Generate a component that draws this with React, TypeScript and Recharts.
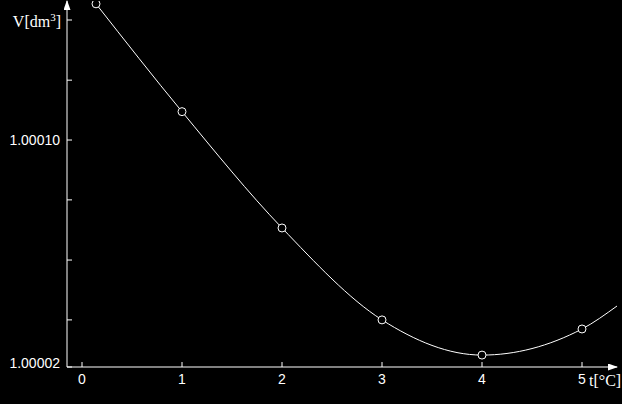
import React from 'react';
import { ComposedChart, Line, Scatter, XAxis, YAxis, Label } from 'recharts';

// temperature t [°C] of the measured points
const measuredT = [0.14, 1, 2, 3, 4, 5];
// volume V [dm³]
const measuredV = [1.000148, 1.00011, 1.000069, 1.0000366, 1.0000242, 1.0000334];
// the drawn curve continues past the last point
const curveEndT = 5.35;
const curveEndV = 1.0000415;

const xTicks = [0, 1, 2, 3, 4, 5];
const yTicks = [1.00002, 1.0000366, 1.0000577, 1.0000789, 1.0001, 1.0001211, 1.0001423];
const yTickLabels = ['1.00002', '', '', '', '1.00010', '', ''];
const xDomain = [-0.15, 5.35];
const yDomain = [1.00002, 1.000149];

const curveData = [
  ...measuredT.map((t, i) => ({ t, v: measuredV[i] })),
  { t: curveEndT, v: curveEndV },
];
const pointData = measuredT.map((t, i) => ({ t, v: measuredV[i] }));

const NUM_FONT = '"Liberation Sans", Arial, sans-serif';
const TITLE_FONT = '"Liberation Serif", "Times New Roman", serif';

function XTick(props: any) {
  const { x, y, payload } = props;
  return (
    <g>
      <line x1={x} y1={y} x2={x} y2={y - 5} stroke="#fff" strokeWidth={1} />
      <text x={x} y={y + 17} textAnchor="middle" fill="#fff" fontSize={14} fontFamily={NUM_FONT}>
        {payload.value}
      </text>
    </g>
  );
}

function YTick(props: any) {
  const { x, y, index } = props;
  const label = yTickLabels[index] ?? '';
  // the label at the origin sits just above the x axis
  const baseline = index === 0 ? y + 1 : y + 5;
  return (
    <g>
      <line x1={x} y1={y} x2={x + 5} y2={y} stroke="#fff" strokeWidth={1} />
      {label ? (
        <text x={x - 7} y={baseline} textAnchor="end" fill="#fff" fontSize={14} fontFamily={NUM_FONT}>
          {label}
        </text>
      ) : null}
    </g>
  );
}

function YTitle(props: any) {
  const vb = props.viewBox || {};
  return (
    <text x={vb.x + vb.width - 6} y={vb.y + 26} textAnchor="end" fill="#fff" fontSize={16} fontFamily={TITLE_FONT}>
      V[dm<tspan fontSize={11} dy={-6}>3</tspan>
      <tspan dy={6}>]</tspan>
    </text>
  );
}

function XTitle(props: any) {
  const vb = props.viewBox || {};
  return (
    <text x={vb.x + vb.width - 28} y={vb.y + 19} textAnchor="start" fill="#fff" fontSize={16} fontFamily={TITLE_FONT}>
      t[°C]
    </text>
  );
}

const PointShape = (props: any) => (
  <circle cx={props.cx} cy={props.cy} r={4} fill="#000" stroke="#fff" strokeWidth={1} />
);

export default function App() {
  return (
    <div style={{ position: 'absolute', left: 0, top: 0, width: 622, height: 404, background: '#000' }}>
      <svg width={0} height={0} style={{ position: 'absolute' }}>
        <defs>
          <marker
            id="axisArrow"
            markerUnits="userSpaceOnUse"
            markerWidth={11}
            markerHeight={8}
            refX={9}
            refY={3.5}
            orient="auto-start-reverse"
          >
            <path d="M0,0 L10,3.5 L0,7 z" fill="#fff" />
          </marker>
        </defs>
      </svg>
      <ComposedChart
        width={622}
        height={404}
        margin={{ top: 1, right: 5, bottom: 0, left: 0 }}
        style={{ background: '#000' }}
      >
        <XAxis
          dataKey="t"
          type="number"
          domain={xDomain}
          ticks={xTicks}
          allowDataOverflow
          height={37}
          tickSize={0}
          tickMargin={0}
          tickLine={false}
          axisLine={{ stroke: '#fff', strokeWidth: 1, markerEnd: 'url(#axisArrow)' }}
          tick={<XTick />}
          interval={0}
        >
          <Label content={<XTitle />} />
        </XAxis>
        <YAxis
          dataKey="v"
          type="number"
          domain={yDomain}
          ticks={yTicks}
          allowDataOverflow
          width={67}
          tickSize={0}
          tickMargin={0}
          tickLine={false}
          axisLine={{ stroke: '#fff', strokeWidth: 1, markerStart: 'url(#axisArrow)' }}
          tick={<YTick />}
          interval={0}
        >
          <Label content={<YTitle />} />
        </YAxis>
        <Line
          data={curveData}
          dataKey="v"
          type="monotone"
          stroke="#fff"
          strokeWidth={1}
          dot={false}
          activeDot={false}
          isAnimationActive={false}
        />
        <Scatter data={pointData} dataKey="v" shape={PointShape} isAnimationActive={false} />
      </ComposedChart>
    </div>
  );
}
